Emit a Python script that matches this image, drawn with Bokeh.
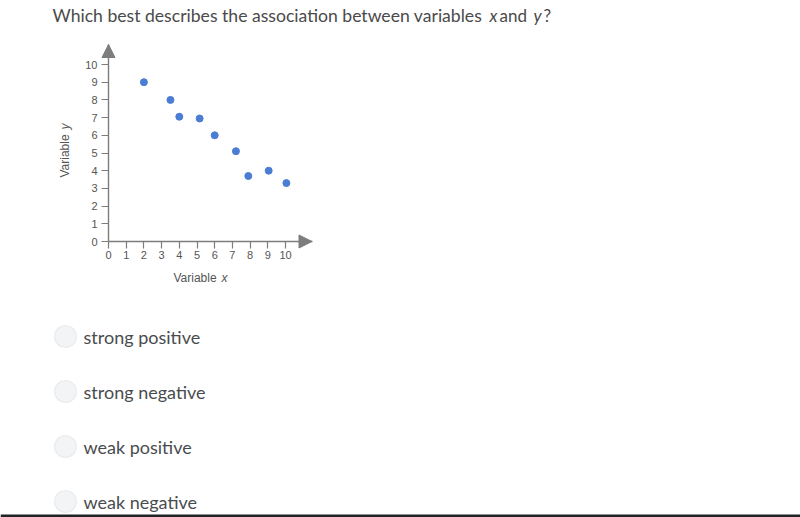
from bokeh.plotting import figure
from bokeh.models import (Range1d, FixedTicker, Label, Arrow, NormalHead,
                          BoxAnnotation, ColumnDataSource)
from bokeh.embed import file_html
from bokeh.resources import INLINE

# ---- data ----
x_vals = [2, 3.5, 4, 5.15, 6, 7.2, 7.9, 9.05, 10.05]
y_vals = [9, 8, 7.05, 6.95, 6, 5.1, 3.7, 4, 3.3]
x_ticks = [0, 1, 2, 3, 4, 5, 6, 7, 8, 9, 10]
y_ticks = [0, 1, 2, 3, 4, 5, 6, 7, 8, 9, 10]
question_main = "Which best describes the association between variables"
choices = ["strong positive", "strong negative", "weak positive", "weak negative"]
x_label = "Variable"
x_var = "x"
y_label = "Variable"
y_var = "y"

# ---- layout ----
W, H = 800, 517
X0 = 108.0        # page px of x = 0
Y0 = 241.0        # page px of y = 0
UNIT = 17.7       # px per data unit
X_AX_END = (311.5 - X0) / UNIT
Y_AX_END = (Y0 - 44.0) / UNIT

p = figure(width=W, height=H, output_backend="svg", toolbar_location=None,
           x_range=Range1d(-X0 / UNIT, (W - X0) / UNIT),
           y_range=Range1d(-(H - Y0) / UNIT, Y0 / UNIT),
           min_border=0)
p.outline_line_color = None
p.grid.visible = False
p.background_fill_color = "white"
p.border_fill_color = "white"

AX = "#7d7d7d"
for ax, ticks, end, standoff in ((p.xaxis[0], x_ticks, X_AX_END, 2),
                                 (p.yaxis[0], y_ticks, Y_AX_END, 4)):
    ax.fixed_location = 0
    ax.bounds = (0, end)
    ax.ticker = FixedTicker(ticks=ticks)
    ax.axis_line_color = AX
    ax.axis_line_width = 1.4
    ax.major_tick_line_color = AX
    ax.major_tick_line_width = 1.2
    ax.major_tick_out = 7
    ax.major_tick_in = 0
    ax.minor_tick_line_color = None
    ax.major_label_text_font = "Liberation Sans"
    ax.major_label_text_font_size = "11px"
    ax.major_label_text_color = "#555555"
    ax.major_label_standoff = standoff

src = ColumnDataSource(dict(x=x_vals, y=y_vals))
p.scatter("x", "y", source=src, size=7, fill_color="#4a7dd4", line_color="#4a7dd4")

# arrow heads at axis ends
p.add_layout(Arrow(end=NormalHead(size=13, fill_color=AX, line_color=AX),
                   x_start=X_AX_END - 0.6, y_start=0, x_end=X_AX_END, y_end=0,
                   line_color=AX, line_width=1.4))
p.add_layout(Arrow(end=NormalHead(size=13, fill_color=AX, line_color=AX),
                   x_start=0, y_start=Y_AX_END - 0.6, x_end=0, y_end=Y_AX_END,
                   line_color=AX, line_width=1.4))

# helpers: page px -> screen units (frame covers the whole canvas, y up)
def sx(px):
    return px

def sy(py):
    return H - py

def lab(text, px, py, size, font="Lato", color="#4a4a4a", style="normal",
        align="left", baseline="alphabetic", angle=0):
    p.add_layout(Label(x=sx(px), y=sy(py), x_units="screen", y_units="screen",
                       text=text, text_font=font, text_font_size=size,
                       text_color=color, text_font_style=style,
                       text_align=align, text_baseline=baseline,
                       angle=angle, angle_units="deg"))

# question
QY = 15
lab(question_main, 52, QY, "17.6px")
lab("x", 489, QY, "17px", style="italic")
lab("and", 499, QY, "17px")
lab("y", 533, QY, "17px", style="italic")
lab("?", 543, QY, "17px")

# axis titles
lab(x_label, 173, 277, "12px", font="Liberation Sans", color="#555555")
lab(x_var, 221, 277, "12px", font="Liberation Sans", color="#555555", style="italic")
lab(y_label, 64, 177, "12px", font="Liberation Sans", color="#555555", angle=90)
lab(y_var, 64, 129, "12px", font="Liberation Sans", color="#555555", style="italic", angle=90)

# answer choices
cy = [336, 391, 446, 501]
for c, yc in zip(choices, cy):
    p.add_layout(BoxAnnotation(left=sx(54), right=sx(76), top=sy(yc - 11), bottom=sy(yc + 11),
                               left_units="screen", right_units="screen",
                               top_units="screen", bottom_units="screen",
                               fill_color="#f3f4f6", fill_alpha=1,
                               line_color="#cbcfd4", line_width=1.2,
                               border_radius=11))
    lab(c, 83, yc, "18px", color="#494c4e")

# bottom rule
p.add_layout(BoxAnnotation(left=0, right=W, top=sy(514), bottom=0,
                           left_units="screen", right_units="screen",
                           top_units="screen", bottom_units="screen",
                           fill_color="#222222", fill_alpha=1, line_color=None))

open("out.html", "w").write(file_html(p, INLINE))
